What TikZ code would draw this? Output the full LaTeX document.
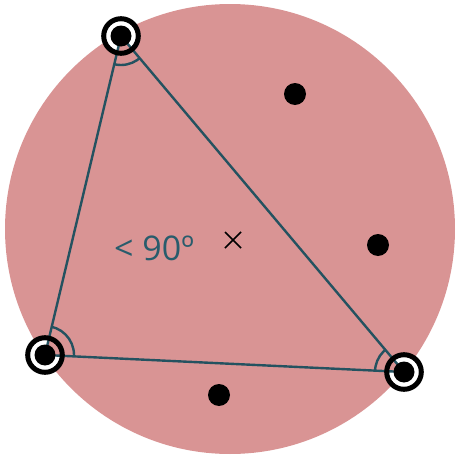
\documentclass[tikz,border=0pt]{standalone}
\usepackage{fontspec}
\setmainfont{Open Sans}
\usetikzlibrary{calc}
\definecolor{pinkfill}{RGB}{217,148,148}
\definecolor{teal}{RGB}{36,82,96}
\definecolor{labelteal}{RGB}{40,92,108}
\begin{document}
\begin{tikzpicture}[x=1pt,y=-1pt,
  edge/.style={draw=teal,line width=2.4pt},
  anglearc/.style={draw=teal,line width=2.4pt},
  dotpt/.style={fill=black},
  ringpt/.style={draw=black,line width=5pt}]
\useasboundingbox (0,0) rectangle (456,455);
\fill[pinkfill] (230,229) circle[radius=225];
% vertices
\coordinate (A) at (121,36);
\coordinate (B) at (45,355);
\coordinate (C) at (404,372);
\foreach \p in {A,B,C} \fill[white] (\p) circle[radius=15];
% triangle
\filldraw[fill=pinkfill,edge,line join=round] (A) -- (B) -- (C) -- cycle;
% angle arcs
\begin{scope}
\clip (A) -- (B) -- (C) -- cycle;
\foreach \p in {A,B,C} \draw[anglearc] (\p) circle[radius=29];
\end{scope}
% rings and dots
\foreach \p in {A,B,C} {
  \draw[ringpt] (\p) circle[radius=17.3];
  \fill[dotpt] (\p) circle[radius=10.5];
}
% free points
\node[dotpt,circle,inner sep=0pt,minimum size=22pt] (p1) at (295,94) {};
\node[dotpt,circle,inner sep=0pt,minimum size=22pt] (p2) at (378,245) {};
\node[dotpt,circle,inner sep=0pt,minimum size=22pt] (p3) at (219,395) {};
% cross
\coordinate (X) at (233,240);
\draw[line width=1.6pt] ($(X)+(-8,-8)$) -- ($(X)+(8,8)$) ($(X)+(-8,8)$) -- ($(X)+(8,-8)$);
% label
\node[anchor=base west,inner sep=0pt,text=labelteal,font=\fontsize{34}{38}\selectfont] (lbl) at (114,260) {< 90º};
\end{tikzpicture}
\end{document}
